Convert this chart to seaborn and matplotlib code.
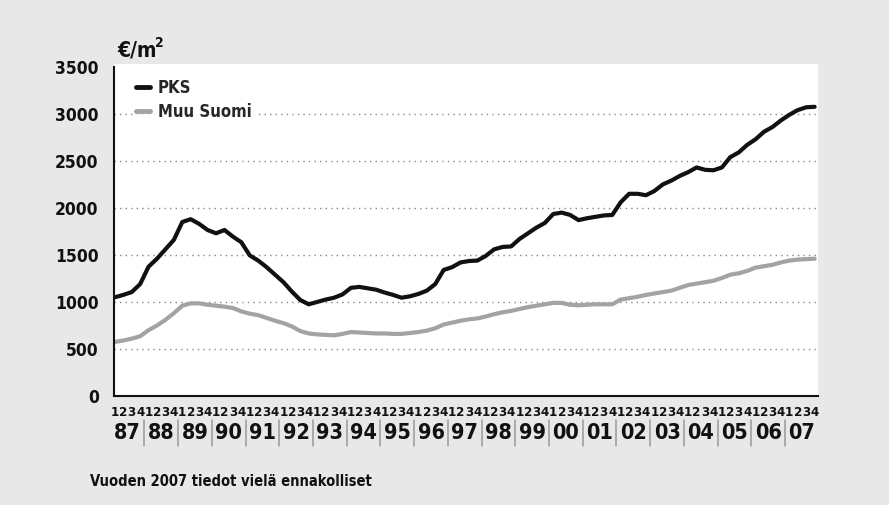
import numpy as np
import pandas as pd
import matplotlib
matplotlib.use("Agg")
import matplotlib.pyplot as plt
import matplotlib.transforms as mtransforms
from matplotlib import font_manager as fm
import seaborn as sns

years = ["87", "88", "89", "90", "91", "92", "93", "94", "95", "96",
         "97", "98", "99", "00", "01", "02", "03", "04", "05", "06", "07"]
quarter_labels = ["1", "2", "3", "4"]

pks = [1050, 1075, 1105, 1190, 1375, 1460, 1560, 1660,
       1850, 1880, 1830, 1765, 1730, 1765, 1695, 1635,
       1495, 1440, 1370, 1290, 1210, 1110, 1020, 975,
       1000, 1025, 1045, 1080, 1150, 1160, 1145, 1130,
       1100, 1075, 1045, 1060, 1085, 1120, 1190, 1340,
       1370, 1420, 1435, 1440, 1490, 1560, 1585, 1590,
       1670, 1730, 1790, 1840, 1935, 1950, 1925, 1870,
       1890, 1905, 1920, 1925, 2060, 2150, 2150, 2135,
       2180, 2250, 2290, 2340, 2380, 2430, 2405, 2400,
       2430, 2540, 2590, 2670, 2730, 2810, 2860, 2930,
       2990, 3040, 3070, 3075]

muu_suomi = [575, 590, 610, 635, 700, 750, 810, 880,
             960, 985, 985, 970, 960, 950, 935, 900,
             875, 860, 830, 800, 775, 740, 690, 665,
             655, 650, 645, 660, 680, 675, 670, 665,
             665, 660, 660, 670, 680, 695, 720, 760,
             780, 800, 815, 825, 845, 870, 890, 905,
             925, 945, 960, 975, 990, 990, 970, 965,
             970, 975, 975, 975, 1025, 1040, 1055, 1075,
             1090, 1105, 1120, 1150, 1180, 1195, 1210, 1225,
             1255, 1290, 1305, 1330, 1365, 1380, 1395, 1420,
             1440, 1450, 1455, 1460]

series_names = ["PKS", "Muu Suomi"]
y_ticks = [0, 500, 1000, 1500, 2000, 2500, 3000, 3500]

n = len(pks)
idx = np.arange(n)
df = pd.DataFrame({
    "t": np.concatenate([idx, idx]),
    "value": pks + muu_suomi,
    "series": [series_names[0]] * n + [series_names[1]] * n,
})

sns.set_theme(style="white")


def pick_font():
    best = None
    for f in fm.fontManager.ttflist:
        name = (f.name + " " + f.fname).lower()
        cond = ("condensed" in name or "narrow" in name or
                str(f.stretch) in ("condensed", "semi-condensed", "extra-condensed"))
        if not cond:
            continue
        w = f.weight if isinstance(f.weight, int) else (700 if "bold" in str(f.weight) else 400)
        if "oblique" in name or "italic" in name or f.style != "normal":
            continue
        score = abs(w - 700)
        if "semi" in name:
            score += 50
        if best is None or score < best[0]:
            best = (score, f.fname)
    if best is not None:
        return fm.FontProperties(fname=best[1]), True
    return fm.FontProperties(family=["Roboto", "DejaVu Sans"], weight="bold"), False


base_fp, is_cond = pick_font()
scale = 1.0 if is_cond else 0.88


def fp(size):
    p = base_fp.copy()
    p.set_size(size * scale)
    return p


bg = "#e8e8e8"
fig = plt.figure(figsize=(8.89, 5.05), dpi=100, facecolor=bg)
ax = fig.add_axes([114 / 889, 1 - 396 / 505, (818 - 114) / 889, (396 - 64) / 505])
ax.set_facecolor("white")

sns.lineplot(data=df, x="t", y="value", hue="series",
             palette={"PKS": "#111111", "Muu Suomi": "#a3a3a3"},
             linewidth=3.0, ax=ax, legend=True)

ax.set_xlim(-0.1, 83.4)
ax.set_ylim(0, 3530)
ax.set_yticks(y_ticks)
ax.set_yticklabels([str(v) for v in y_ticks], fontproperties=fp(12.5), color="#111111")
ax.tick_params(axis="y", length=0, pad=11)

for v in y_ticks[1:-1]:
    ax.axhline(v, color="#888888", lw=1.0, ls=(0, (1, 3)), zorder=0)

ax.set_xticks(idx)
ax.set_xticklabels([quarter_labels[i % 4] for i in idx], fontproperties=fp(9.5),
                   color="#111111")
ax.tick_params(axis="x", length=0, pad=7)
ax.set_xlabel("")
ax.set_ylabel("")

for s in ["top", "right"]:
    ax.spines[s].set_visible(False)
for s in ["left", "bottom"]:
    ax.spines[s].set_color("#111111")
    ax.spines[s].set_linewidth(1.5)
ax.spines["left"].set_bounds(0, 3500)

trans = mtransforms.blended_transform_factory(ax.transData, ax.transAxes)
ylab = -(433 - 396) / 332
for k, yr in enumerate(years):
    ax.text(4 * k + 1.5, ylab, yr, transform=trans, ha="center", va="center",
            fontproperties=fp(15.5), color="#111111", clip_on=False)
    if k < len(years) - 1:
        ax.plot([4 * k + 3.5, 4 * k + 3.5], [ylab - 0.04, ylab + 0.04],
                transform=trans, color="#999999", lw=1.1, clip_on=False)

leg = ax.legend(loc="upper left", bbox_to_anchor=(0.027, 0.965), frameon=True,
                handlelength=0.8, handletextpad=0.5, labelspacing=0.35,
                prop=fp(12), borderaxespad=0.0, borderpad=0.2)
leg.get_frame().set_facecolor("white")
leg.get_frame().set_edgecolor("white")
for line in leg.get_lines():
    line.set_linewidth(3.5)

fig.text(117 / 889, 1 - 50 / 505, "€/m", fontproperties=fp(15),
         color="#111111", ha="left", va="center")
fig.text(155 / 889, 1 - 43 / 505, "2", fontproperties=fp(10),
         color="#111111", ha="left", va="center")
fig.text(90 / 889, 1 - 481 / 505, "Vuoden 2007 tiedot vielä ennakolliset",
         fontproperties=fp(10.5), color="#111111", ha="left", va="center")

fig.savefig("out.png", dpi=100, facecolor=bg)
